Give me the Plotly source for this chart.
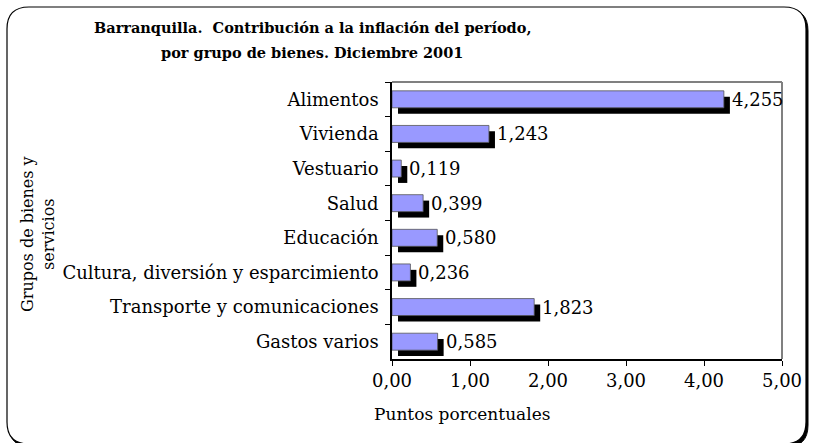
import plotly.graph_objects as go

categories = ["Alimentos", "Vivienda", "Vestuario", "Salud", "Educación",
              "Cultura, diversión y esparcimiento", "Transporte y comunicaciones",
              "Gastos varios"]
values = [4.255, 1.243, 0.119, 0.399, 0.580, 0.236, 1.823, 0.585]
x_ticks = [0, 1, 2, 3, 4, 5]

FONT = "DejaVu Serif"
BAR_W = 0.49
SH_DX = 0.077   # shadow offset along value axis (data units)
SH_DY = 0.17    # shadow offset along category axis (category units)

W, H = 814, 443
ML, MR, MT, MB = 392, 32, 82, 84
PW, PH = W - ML - MR, H - MT - MB

def px(x):
    return (x - ML) / PW

def py(y):
    return 1 - (y - MT) / PH

fig = go.Figure()
# shadow
fig.add_trace(go.Bar(
    y=categories, x=values, base=[SH_DX] * len(values), orientation="h",
    width=BAR_W, offset=-BAR_W / 2 + SH_DY,
    marker=dict(color="black", line=dict(width=0)),
    hoverinfo="skip", showlegend=False))
# main bars
fig.add_trace(go.Bar(
    y=categories, x=values, orientation="h", width=BAR_W, offset=-BAR_W / 2,
    marker=dict(color="#9999FF", line=dict(color="#555555", width=0.8)),
    showlegend=False))

for c, v in zip(categories, values):
    fig.add_annotation(x=v + SH_DX, y=c, xref="x", yref="y", xanchor="left",
                       yanchor="middle", showarrow=False, xshift=0,
                       text=f"{v:.3f}".replace(".", ","),
                       font=dict(family=FONT, size=18, color="black"))

# plot area gray border (top and right)
fig.add_shape(type="line", xref="paper", yref="paper", x0=0, x1=1, y0=1, y1=1,
              line=dict(color="#808080", width=2), layer="above")
fig.add_shape(type="line", xref="paper", yref="paper", x0=1, x1=1, y0=0, y1=1,
              line=dict(color="#808080", width=2), layer="above")

def rpath(x0, y0, x1, y1, r):
    def P(x, y):
        return f"{px(x):.5f},{py(y):.5f}"
    return (f"M {P(x0 + r, y0)} L {P(x1 - r, y0)} Q {P(x1, y0)} {P(x1, y0 + r)} "
            f"L {P(x1, y1 - r)} Q {P(x1, y1)} {P(x1 - r, y1)} L {P(x0 + r, y1)} "
            f"Q {P(x0, y1)} {P(x0, y1 - r)} L {P(x0, y0 + r)} Q {P(x0, y0)} {P(x0 + r, y0)} Z")

fig.add_shape(type="path", xref="paper", yref="paper", path=rpath(9, 9, 808, 447, 22),
              fillcolor="black", line=dict(color="black", width=1), layer="below")
fig.add_shape(type="path", xref="paper", yref="paper", path=rpath(7, 7, 806, 444, 22),
              fillcolor="white", line=dict(color="black", width=1.2), layer="below")

fig.add_annotation(x=px(312), y=py(28), xref="paper", yref="paper", showarrow=False,
                   text="<b>Barranquilla.  Contribución a la inflación del período,</b>",
                   font=dict(family=FONT, size=14.5, color="black"),
                   xanchor="center", yanchor="middle")
fig.add_annotation(x=px(312), y=py(52), xref="paper", yref="paper", showarrow=False,
                   text="<b>por grupo de bienes. Diciembre 2001</b>",
                   font=dict(family=FONT, size=14.5, color="black"),
                   xanchor="center", yanchor="middle")
fig.add_annotation(x=px(462), y=py(414), xref="paper", yref="paper", showarrow=False,
                   text="Puntos porcentuales", xanchor="center", yanchor="middle",
                   font=dict(family=FONT, size=17, color="black"))
fig.add_annotation(x=px(38), y=py(234), xref="paper", yref="paper", showarrow=False,
                   text="Grupos de bienes y<br>servicios", textangle=-90,
                   xanchor="center", yanchor="middle",
                   font=dict(family=FONT, size=16, color="black"))

fig.update_layout(
    width=W, height=H, margin=dict(l=ML, r=MR, t=MT, b=MB),
    paper_bgcolor="rgba(0,0,0,0)", plot_bgcolor="white",
    barmode="overlay", separators=",.",
    font=dict(family=FONT, size=18, color="black"),
    xaxis=dict(range=[0, 5], tickvals=x_ticks, tickformat=".2f", showgrid=False,
               zeroline=False, showline=True, linecolor="black", linewidth=1.5,
               ticks="outside", ticklen=5, tickcolor="black", tickfont=dict(size=18),
               fixedrange=True),
    yaxis=dict(autorange="reversed", showgrid=False, zeroline=False, showline=True,
               linecolor="black", linewidth=1.5, ticks="outside", ticklen=5,
               tickcolor="black", tickson="boundaries", tickfont=dict(size=18),
               ticklabelstandoff=8, fixedrange=True),
)

fig.write_html("out.html", config={"displayModeBar": False},
               post_script="document.body.style.margin='0';document.body.style.overflow='hidden';")
